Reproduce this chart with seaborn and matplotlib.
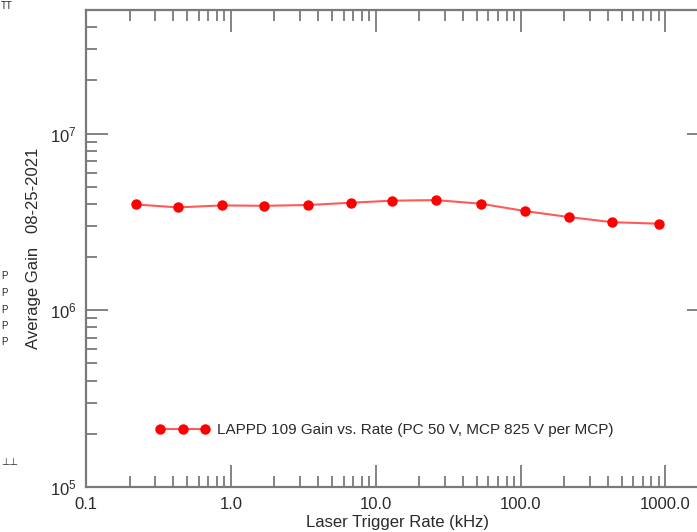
import matplotlib
matplotlib.use("Agg")
import matplotlib.pyplot as plt
from matplotlib.ticker import LogLocator, FixedLocator, FixedFormatter, NullFormatter
import numpy as np
import pandas as pd
import seaborn as sns

# Laser trigger rate (kHz) and measured average gain
rate_khz = [0.22, 0.43, 0.87, 1.7, 3.4, 6.8, 13.0, 26.0, 53.0, 108.0, 215.0, 430.0, 900.0]
avg_gain = [3.97e6, 3.82e6, 3.92e6, 3.90e6, 3.94e6, 4.06e6, 4.17e6, 4.20e6,
            4.01e6, 3.64e6, 3.37e6, 3.15e6, 3.09e6]

x_ticks = [0.1, 1.0, 10.0, 100.0, 1000.0]
x_tick_labels = ["0.1", "1.0", "10.0", "100.0", "1000.0"]
y_ticks = [1e5, 1e6, 1e7]
y_tick_labels = [r"$10^{5}$", r"$10^{6}$", r"$10^{7}$"]

series_label = "LAPPD 109 Gain vs. Rate (PC 50 V, MCP 825 V per MCP)"

sns.set_theme(style="white")
plt.rcParams["font.family"] = ["Liberation Sans", "DejaVu Sans"]
plt.rcParams["mathtext.fontset"] = "custom"
plt.rcParams["mathtext.rm"] = "Liberation Sans"
plt.rcParams["mathtext.it"] = "Liberation Sans"

W, H = 697, 532
fig = plt.figure(figsize=(W / 100, H / 100), dpi=100)
fig.patch.set_facecolor("white")

# axes box in pixels: left 86, right 709 (runs past the canvas edge), top 10, bottom 487
ax = fig.add_axes([86 / W, 1 - 487 / H, (709 - 86) / W, (487 - 10) / H])
ax.set_facecolor("white")

df = pd.DataFrame({"rate": rate_khz, "gain": avg_gain})
sns.lineplot(data=df, x="rate", y="gain", ax=ax, color="#ff0000",
             linewidth=1.5, marker="o", markersize=7.5, markeredgewidth=0,
             label=series_label)
for ln in ax.get_lines():
    ln.set_color((1.0, 0.35, 0.35))
    ln.set_markerfacecolor("#ff0000")
    ln.set_markeredgecolor("#ff0000")

ax.set_xscale("log")
ax.set_yscale("log")
ax.set_xlim(0.1, 2000)
ax.set_ylim(1e5, 5e7)

ax.xaxis.set_major_locator(FixedLocator(x_ticks))
ax.xaxis.set_major_formatter(FixedFormatter(x_tick_labels))
ax.xaxis.set_minor_locator(LogLocator(base=10, subs=np.arange(2, 10), numticks=20))
ax.xaxis.set_minor_formatter(NullFormatter())
ax.yaxis.set_major_locator(FixedLocator(y_ticks))
ax.yaxis.set_major_formatter(FixedFormatter(y_tick_labels))
ax.yaxis.set_minor_locator(LogLocator(base=10, subs=np.arange(2, 10), numticks=20))
ax.yaxis.set_minor_formatter(NullFormatter())

tick_col = "#7a7a7a"
text_col = "#2a2a2a"
ax.tick_params(which="both", direction="in", top=True, right=True,
               bottom=True, left=True, color=tick_col, width=1.3)
ax.tick_params(which="major", length=16, labelsize=12, labelcolor=text_col, pad=7)
ax.tick_params(which="minor", length=8)
for s in ax.spines.values():
    s.set_color(tick_col)
    s.set_linewidth(1.6)
    s.set_visible(True)

ax.set_xlabel("Laser Trigger Rate (kHz)", fontsize=12, color=text_col, labelpad=2)
ax.set_ylabel("Average Gain   08-25-2021", fontsize=12, color=text_col, labelpad=6)

ax.legend(loc="center left", bbox_to_anchor=(155 / W, 1 - 430 / H),
          bbox_transform=fig.transFigure, frameon=False, numpoints=3,
          handlelength=3.6, handletextpad=0.45, borderpad=0, borderaxespad=0,
          fontsize=11, labelcolor=text_col)

# stray glyph fragments along the left edge
fig.text(1, H - 6, "TT", fontsize=7, color=text_col, va="center", ha="left",
         transform=None)
for yp in [276, 293, 310, 326, 342]:
    fig.text(1, H - yp, "P", fontsize=7, color=text_col, va="center", ha="left",
             transform=None)
fig.text(1, H - 462, "\u22a5\u22a5", fontsize=7, color=text_col, va="center",
         ha="left", transform=None, family=["DejaVu Sans"])

fig.savefig("out.png", dpi=100, facecolor="white")
